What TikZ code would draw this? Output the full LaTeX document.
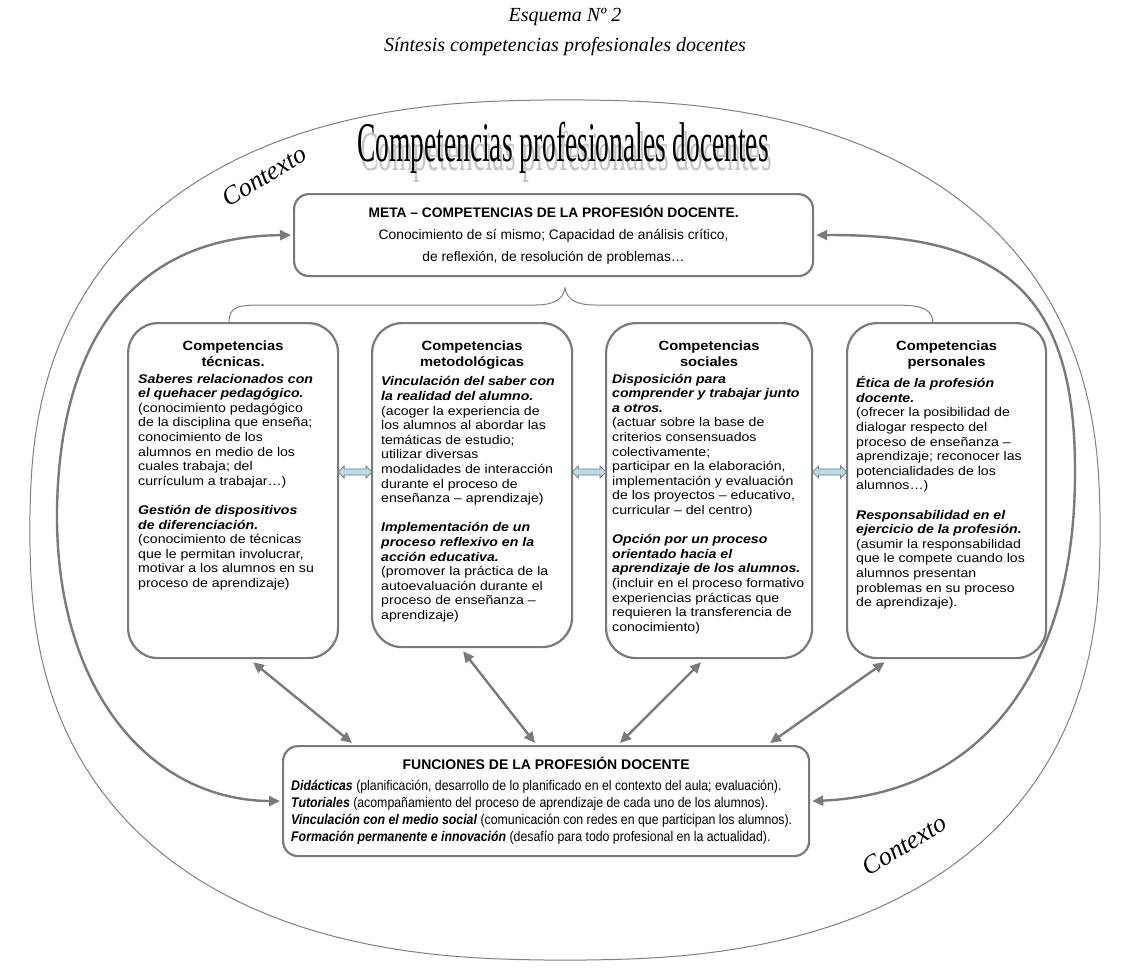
\documentclass[tikz,border=0pt]{standalone}
\usepackage{fontspec}
\setmainfont{Liberation Sans}
\newfontfamily\capserif{Liberation Serif}
\newfontfamily\wordartserif[FakeStretch=0.49]{Liberation Serif}
\newfontfamily\widesans[FakeStretch=1.12]{Liberation Sans}
\newfontfamily\headsans[FakeStretch=1.1]{Liberation Sans}
\newfontfamily\narrowsans[FakeStretch=0.88]{Liberation Sans}
\usetikzlibrary{arrows.meta,calc,shapes.arrows}

\definecolor{edgegray}{RGB}{122,122,122}
\definecolor{ringgray}{RGB}{128,128,128}
\definecolor{linkblue}{RGB}{183,221,232}

\newcommand{\boldit}[1]{\textbf{\textit{#1}}}

\tikzset{
  captiontext/.style={font=\capserif\itshape\fontsize{20}{24}\selectfont, inner sep=0pt},
  wordart/.style={font=\wordartserif\fontsize{56}{56}\selectfont, inner sep=0pt},
  ctxlabel/.style={font=\capserif\itshape\fontsize{26}{26}\selectfont, rotate=31, inner sep=0pt},
  compbox/.style={draw=edgegray, line width=2.2pt, rounded corners=30pt, fill=white,
                  anchor=north west, inner sep=0pt},
  roundbox/.style={draw=edgegray, line width=2.2pt, rounded corners=15pt, fill=white,
                   anchor=north west, inner sep=0pt},
  headtext/.style={anchor=north, align=center, inner sep=0pt,
                   font=\headsans\bfseries\fontsize{13.4}{15.5}\selectfont},
  bodytext/.style={anchor=north west, align=left, inner sep=0pt,
                   font=\widesans\fontsize{12.6}{14.6}\selectfont},
  link/.style={draw=edgegray, line width=2.4pt,
               arrows={Triangle[length=11pt,width=10pt]-Triangle[length=11pt,width=10pt]}},
  ring/.style={draw=ringgray, line width=1pt},
  bracepath/.style={draw=ringgray, line width=1pt},
  sidearrow/.style={double arrow, draw=edgegray, fill=linkblue, line width=0.8pt,
                    minimum height=34pt, inner sep=2.6pt, double arrow head extend=3pt,
                    double arrow head indent=0pt},
}

\begin{document}
\begin{tikzpicture}[x=1pt,y=-1pt]
\useasboundingbox (0,0) rectangle (1130,978);
\fill[white] (0,0) rectangle (1130,978);

% captions above the diagram
\node[captiontext] (head1) at (565,17) {Esquema Nº 2};
\node[captiontext] (head2) at (565,47) {Síntesis competencias profesionales docentes};

% the surrounding context ring (a rounded superellipse)
\draw[ring] plot[domain=1:359, samples=180, variable=\t]
  ({565+535*sign(cos(\t))*pow(abs(cos(\t)),0.82)},
   {530+430*sign(sin(\t))*pow(abs(sin(\t)),0.82)}) -- cycle;

% title with its soft shadow
\node[wordart, text=gray!45] (wordshade) at (566,157) {Competencias profesionales docentes};
\node[wordart] (wordmain) at (563,148) {Competencias profesionales docentes};

% context labels
\node[ctxlabel] (ctxA) at (264,176) {Contexto};
\node[ctxlabel] (ctxB) at (904,845) {Contexto};

% meta-competences box
\node[roundbox, minimum width=519pt, minimum height=82pt] (meta) at (293,193) {};
\node[align=center, inner sep=0pt, font=\fontsize{13.8}{22}\selectfont] (metaT) at (meta.center)
  {\textbf{META – COMPETENCIAS DE LA PROFESIÓN DOCENTE.}\\
   Conocimiento de sí mismo; Capacidad de análisis crítico,\\
   de reflexión, de resolución de problemas…};

% the four competence boxes
\node[compbox, minimum width=210pt, minimum height=335pt] (tec) at (127,322) {};
\node[compbox, minimum width=200pt, minimum height=324pt] (met) at (371,322) {};
\node[compbox, minimum width=206pt, minimum height=335pt] (soc) at (605,322) {};
\node[compbox, minimum width=199pt, minimum height=335pt] (per) at (846,322) {};

% brace grouping the four boxes under the meta box
\draw[bracepath] ($(tec.north)+(-4,0)$) .. controls ($(tec.north)+(-4,-16)$) and (238,305) .. (266,305)
  -- (535,305) .. controls (553,305) and (563,300) .. (565,288)
  .. controls (567,300) and (577,305) .. (595,305) -- (888,305)
  .. controls (916,305) and ($(per.north)+(-14,-16)$) .. ($(per.north)+(-14,0)$);

\node[headtext] (tecH) at ($(tec.north)+(0,19)$) {Competencias\\técnicas.};
\node[bodytext] (tecB) at ($(tec.north west |- tecH.south)+(11,7)$)
  {\boldit{Saberes relacionados con}\\
   \boldit{el quehacer pedagógico.}\\
   (conocimiento pedagógico\\
   de la disciplina que enseña;\\
   conocimiento de los\\
   alumnos en medio de los\\
   cuales trabaja; del\\
   currículum a trabajar…)\\[14.6pt]
   \boldit{Gestión de dispositivos}\\
   \boldit{de diferenciación.}\\
   (conocimiento de técnicas\\
   que le permitan involucrar,\\
   motivar a los alumnos en su\\
   proceso de aprendizaje)};

\node[headtext] (metH) at ($(met.north)+(0,19)$) {Competencias\\metodológicas};
\node[bodytext] (metB) at ($(met.north west |- metH.south)+(10,7)$)
  {\boldit{Vinculación del saber con}\\
   \boldit{la realidad del alumno.}\\
   (acoger la experiencia de\\
   los alumnos al abordar las\\
   temáticas de estudio;\\
   utilizar diversas\\
   modalidades de interacción\\
   durante el proceso de\\
   enseñanza – aprendizaje)\\[14.6pt]
   \boldit{Implementación de un}\\
   \boldit{proceso reflexivo en la}\\
   \boldit{acción educativa.}\\
   (promover la práctica de la\\
   autoevaluación durante el\\
   proceso de enseñanza –\\
   aprendizaje)};

\node[headtext] (socH) at ($(soc.north)+(0,19)$) {Competencias\\sociales};
\node[bodytext] (socB) at ($(soc.north west |- socH.south)+(7,7)$)
  {\boldit{Disposición para}\\
   \boldit{comprender y trabajar junto}\\
   \boldit{a otros.}\\
   (actuar sobre la base de\\
   criterios consensuados\\
   colectivamente;\\
   participar en la elaboración,\\
   implementación y evaluación\\
   de los proyectos – educativo,\\
   curricular – del centro)\\[14.6pt]
   \boldit{Opción por un proceso}\\
   \boldit{orientado hacia el}\\
   \boldit{aprendizaje de los alumnos.}\\
   (incluir en el proceso formativo\\
   experiencias prácticas que\\
   requieren la transferencia de\\
   conocimiento)};

\node[headtext] (perH) at ($(per.north)+(0,19)$) {Competencias\\personales};
\node[bodytext] (perB) at ($(per.north west |- perH.south)+(10,7)$)
  {\boldit{Ética de la profesión}\\
   \boldit{docente.}\\
   (ofrecer la posibilidad de\\
   dialogar respecto del\\
   proceso de enseñanza –\\
   aprendizaje; reconocer las\\
   potencialidades de los\\
   alumnos…)\\[14.6pt]
   \boldit{Responsabilidad en el}\\
   \boldit{ejercicio de la profesión.}\\
   (asumir la responsabilidad\\
   que le compete cuando los\\
   alumnos presentan\\
   problemas en su proceso\\
   de aprendizaje).};

% links between neighbouring boxes
\coordinate (midrow) at (0,472);
\node[sidearrow] (lnk12) at ($(tec.east |- midrow)!0.5!(met.west |- midrow)$) {};
\node[sidearrow] (lnk23) at ($(met.east |- midrow)!0.5!(soc.west |- midrow)$) {};
\node[sidearrow] (lnk34) at ($(soc.east |- midrow)!0.5!(per.west |- midrow)$) {};

% functions box
\node[roundbox, minimum width=526pt, minimum height=110pt] (fun) at (282,745) {};
\node[anchor=north, inner sep=0pt, font=\bfseries\fontsize{14}{17}\selectfont] (funH)
  at ($(fun.north)+(0,12)$) {FUNCIONES DE LA PROFESIÓN DOCENTE};
\node[anchor=north west, align=left, inner sep=0pt, font=\narrowsans\fontsize{14}{17}\selectfont] (funB)
  at ($(fun.north west)+(9,35)$)
  {\boldit{Didácticas} (planificación, desarrollo de lo planificado en el contexto del aula; evaluación).\\
   \boldit{Tutoriales} (acompañamiento del proceso de aprendizaje de cada uno de los alumnos).\\
   \boldit{Vinculación con el medio social} (comunicación con redes en que participan los alumnos).\\
   \boldit{Formación permanente e innovación} (desafío para todo profesional en la actualidad).};

% competences <-> functions
\draw[link] ($(tec.south)+(20,3)$) -- ($(fun.north west)+(70,-2)$);
\draw[link] ($(met.south)+(-9,3)$) -- ($(fun.north west)+(253,-2)$);
\draw[link] ($(soc.south)+(-8,3)$) -- ($(fun.north west)+(338,-2)$);
\draw[link] ($(per.south)+(-62,3)$) -- ($(fun.north west)+(488,-2)$);

% meta <-> functions around both sides
\draw[link] ($(meta.west)+(-2,0)$) .. controls (150,236) and (60,320) .. (57,510)
  .. controls (55,690) and (150,800) .. ($(fun.west)+(-2,0)$);
\draw[link] ($(meta.east)+(2,0)$) .. controls (1000,234) and (1075,290) .. (1075,470)
  .. controls (1076,660) and (990,793) .. ($(fun.east)+(2,0)$);
\end{tikzpicture}
\end{document}
